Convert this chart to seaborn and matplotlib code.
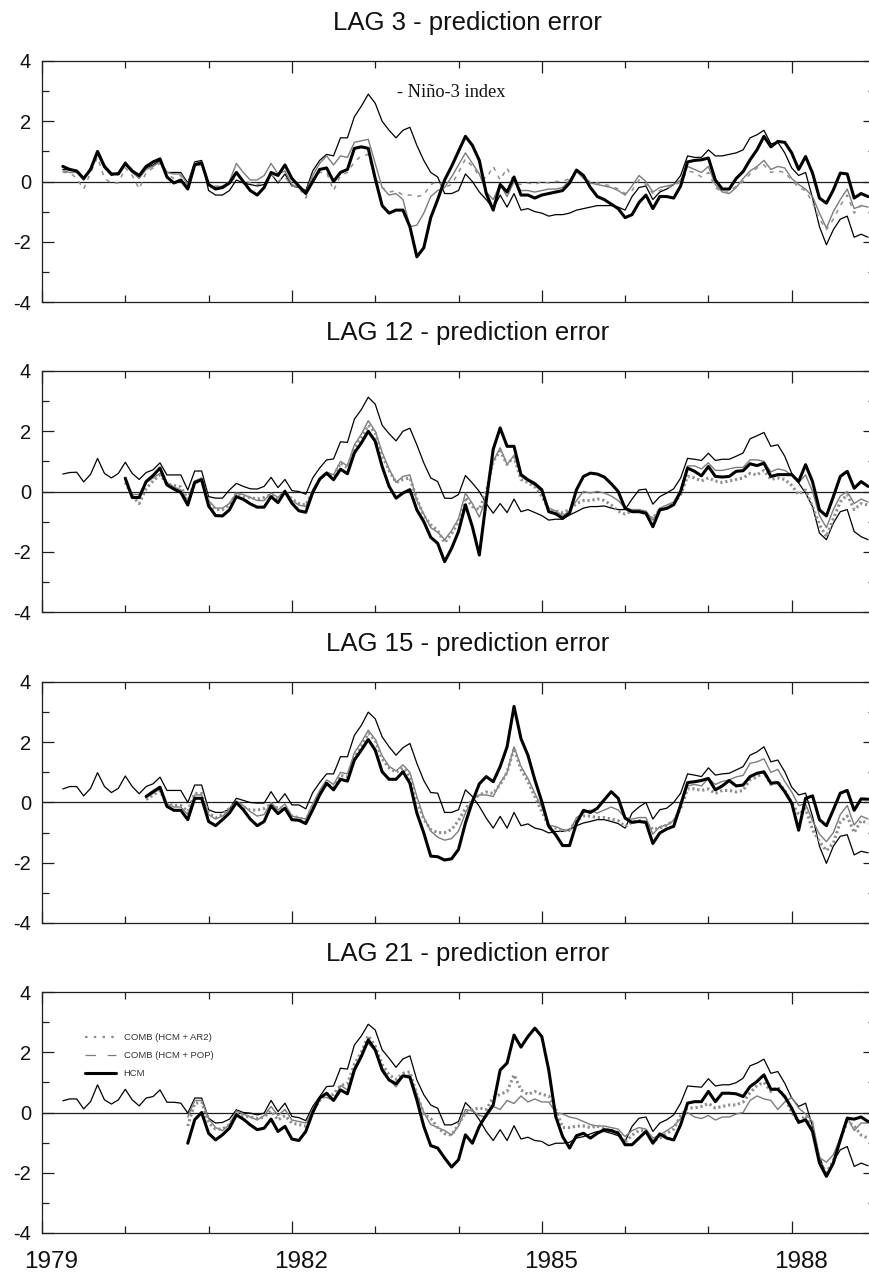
import numpy as np
import pandas as pd
import matplotlib
matplotlib.use("Agg")
import matplotlib.pyplot as plt
import matplotlib.transforms as mtransforms
from matplotlib.lines import Line2D
from matplotlib.ticker import FixedLocator, MultipleLocator
import seaborn as sns

# ---------------------------------------------------------------------------
# Monthly series (month index 0 = January 1979)
# ---------------------------------------------------------------------------
BASE_YEAR = 1979
year_ticks = [1979, 1982, 1985, 1988]
titles = ["LAG 3 - prediction error", "LAG 12 - prediction error",
          "LAG 15 - prediction error", "LAG 21 - prediction error"]
legend_labels = ["COMB (HCM + AR2)", "COMB (HCM + POP)", "HCM"]
nino_label = "- Niño-3 index"

nino_start = 3
model_start = [3, 12, 15, 21]

lag3_nino = [0.4, 0.38, 0.35, 0.05, 0.45, 0.95, 0.45, 0.2, 0.3, 0.65,
             0.35, 0.15, 0.45, 0.55, 0.7, 0.3, 0.3, 0.3, -0.05, 0.65,
             0.7, -0.3, -0.45, -0.45, -0.3, 0.05, -0.05, -0.1, -0.15, -0.1,
             0.25, -0.05, 0.25, -0.15, -0.2, -0.3, 0.35, 0.7, 0.9, 0.85,
             1.45, 1.45, 2.15, 2.5, 2.9, 2.6, 2.0, 1.7, 1.45, 1.7,
             1.8, 1.2, 0.7, 0.3, 0.15, -0.4, -0.4, -0.3, 0.25, 0.0,
             -0.35, -0.6, -0.9, -0.45, -0.85, -0.4, -0.95, -0.9, -1.0, -1.05,
             -1.15, -1.1, -1.1, -1.05, -0.95, -0.9, -0.85, -0.8, -0.8, -0.8,
             -0.85, -0.95, -0.5, -0.2, -0.15, -0.6, -0.35, -0.25, -0.1, 0.2,
             0.85, 0.8, 0.8, 1.05, 0.85, 0.85, 0.9, 0.95, 1.05, 1.45,
             1.55, 1.7, 1.25, 1.3, 0.95, 0.45, 0.2, 0.3, -0.55, -1.5,
             -2.1, -1.6, -1.25, -1.15, -1.85, -1.75, -1.85]
lag3_hcm = [0.5, 0.4, 0.35, 0.1, 0.4, 1.0, 0.5, 0.25, 0.25, 0.6,
            0.35, 0.2, 0.5, 0.65, 0.75, 0.15, -0.05, 0.05, -0.25, 0.55,
            0.62, -0.1, -0.25, -0.2, -0.05, 0.3, 0.0, -0.3, -0.45, -0.2,
            0.3, 0.2, 0.55, 0.1, -0.15, -0.4, 0.0, 0.4, 0.45, 0.0,
            0.3, 0.4, 1.1, 1.15, 1.1, 0.1, -0.8, -1.05, -0.95, -0.95,
            -1.5, -2.5, -2.2, -1.2, -0.6, 0.05, 0.5, 1.0, 1.5, 1.2,
            0.7, -0.4, -0.95, -0.1, -0.35, 0.15, -0.45, -0.45, -0.55, -0.45,
            -0.4, -0.35, -0.3, -0.05, 0.38, 0.2, -0.2, -0.5, -0.6, -0.75,
            -0.9, -1.2, -1.1, -0.7, -0.45, -0.9, -0.5, -0.5, -0.55, -0.15,
            0.65, 0.7, 0.72, 0.78, 0.05, -0.25, -0.25, 0.1, 0.33, 0.72,
            1.05, 1.5, 1.15, 1.33, 1.3, 0.95, 0.4, 0.83, 0.28, -0.55,
            -0.72, -0.28, 0.28, 0.25, -0.55, -0.4, -0.5]
lag3_pop = [0.35, 0.3, 0.3, 0.05, 0.4, 0.9, 0.45, 0.25, 0.25, 0.55,
            0.3, 0.1, 0.4, 0.5, 0.65, 0.3, 0.25, 0.25, -0.1, 0.6,
            0.65, -0.1, -0.2, -0.15, 0.0, 0.6, 0.3, 0.05, 0.05, 0.2,
            0.6, 0.25, 0.35, -0.1, -0.2, -0.35, 0.2, 0.6, 0.85, 0.55,
            0.85, 0.8, 1.3, 1.35, 1.4, 0.6, -0.2, -0.45, -0.4, -0.6,
            -1.5, -1.45, -1.05, -0.5, -0.3, -0.2, 0.15, 0.55, 0.95, 0.6,
            0.25, -0.35, -0.6, -0.1, -0.5, 0.0, -0.3, -0.3, -0.35, -0.3,
            -0.25, -0.25, -0.2, 0.05, 0.35, 0.1, -0.05, -0.1, -0.15, -0.2,
            -0.3, -0.45, -0.15, 0.2, 0.0, -0.35, -0.2, -0.15, -0.1, 0.05,
            0.5, 0.4, 0.3, 0.5, -0.1, -0.35, -0.4, -0.2, 0.1, 0.35,
            0.5, 0.7, 0.4, 0.5, 0.45, 0.1, -0.1, -0.25, -0.5, -1.05,
            -1.55, -1.0, -0.6, -0.25, -0.9, -0.8, -0.85]
lag3_ar2 = [0.3, 0.3, 0.1, -0.25, 0.3, 0.8, 0.1, -0.05, -0.05, 0.45,
            0.2, -0.25, 0.3, 0.45, 0.6, 0.25, 0.1, 0.2, -0.15, 0.5,
            0.55, -0.05, -0.15, -0.15, -0.1, 0.2, 0.05, -0.05, -0.1, -0.05,
            0.25, 0.0, 0.15, -0.15, -0.2, -0.55, 0.1, 0.3, 0.3, -0.3,
            0.2, 0.3, 0.65, 0.85, 0.9, 0.1, -0.2, -0.35, -0.3, -0.45,
            -0.45, -0.5, -0.45, -0.1, 0.0, -0.2, -0.1, 0.3, 0.75, 0.5,
            0.2, 0.1, 0.5, 0.05, 0.45, -0.05, -0.1, -0.05, -0.1, 0.0,
            -0.05, 0.0, 0.0, 0.1, 0.35, 0.1, 0.0, -0.05, -0.1, -0.15,
            -0.25, -0.4, -0.3, 0.05, -0.1, -0.4, -0.3, -0.2, -0.15, 0.0,
            0.35, 0.3, 0.15, 0.3, -0.2, -0.35, -0.35, -0.15, 0.0, 0.25,
            0.45, 0.55, 0.3, 0.35, 0.3, 0.05, -0.2, -0.3, -0.7, -1.25,
            -1.6, -1.25, -0.8, -0.45, -1.05, -0.8, -0.75]

lag12_nino = [0.58, 0.63, 0.64, 0.32, 0.57, 1.1, 0.6, 0.45, 0.6, 0.97,
              0.6, 0.4, 0.63, 0.72, 0.95, 0.55, 0.55, 0.55, 0.05, 0.68,
              0.68, -0.17, -0.22, -0.22, 0.05, 0.27, 0.17, 0.09, 0.08, 0.17,
              0.47, 0.13, 0.4, 0.03, 0.0, -0.09, 0.45, 0.78, 1.05, 1.08,
              1.65, 1.63, 2.4, 2.72, 3.13, 2.9, 2.2, 1.92, 1.68, 2.0,
              2.1, 1.55, 0.95, 0.45, 0.33, -0.22, -0.23, -0.1, 0.53, 0.28,
              0.0, -0.4, -0.72, -0.4, -0.7, -0.25, -0.67, -0.6, -0.7, -0.8,
              -0.95, -0.92, -0.92, -0.78, -0.67, -0.55, -0.5, -0.5, -0.48, -0.55,
              -0.6, -0.6, -0.25, 0.05, 0.08, -0.42, -0.17, -0.05, 0.09, 0.45,
              1.1, 1.07, 1.03, 1.27, 1.03, 1.07, 1.07, 1.17, 1.28, 1.75,
              1.85, 1.96, 1.5, 1.55, 1.17, 0.6, 0.28, -0.05, -0.5, -1.38,
              -1.6, -1.05, -0.67, -0.6, -1.33, -1.5, -1.6]
lag12_hcm = [0.44, -0.2, -0.2, 0.33, 0.53, 0.78, 0.22, 0.08, -0.03, -0.45,
             0.3, 0.39, -0.48, -0.8, -0.81, -0.61, -0.17, -0.26, -0.41, -0.52,
             -0.52, -0.17, -0.37, 0.0, -0.39, -0.64, -0.69, -0.03, 0.41, 0.61,
             0.39, 0.74, 0.59, 1.28, 1.61, 2.0, 1.67, 0.83, 0.17, -0.22,
             -0.05, 0.06, -0.61, -1.0, -1.52, -1.72, -2.33, -1.89, -1.33, -0.44,
             -1.17, -2.11, -0.3, 1.4, 2.11, 1.5, 1.5, 0.56, 0.39, 0.26,
             0.06, -0.67, -0.74, -0.89, -0.72, 0.06, 0.5, 0.61, 0.58, 0.48,
             0.26, 0.0, -0.56, -0.67, -0.67, -0.72, -1.17, -0.61, -0.56, -0.44,
             0.0, 0.78, 0.67, 0.52, 0.83, 0.5, 0.48, 0.5, 0.67, 0.69,
             0.92, 0.86, 0.94, 0.5, 0.56, 0.56, 0.56, 0.33, 0.89, 0.33,
             -0.61, -0.81, -0.17, 0.5, 0.67, 0.11, 0.33, 0.17]
lag12_pop = [0.35, -0.1, -0.1, 0.3, 0.45, 0.6, 0.3, 0.15, 0.05, -0.3,
             0.35, 0.45, -0.3, -0.55, -0.55, -0.4, -0.05, -0.1, -0.2, -0.3,
             -0.3, -0.05, -0.2, 0.05, -0.3, -0.45, -0.5, 0.05, 0.45, 0.65,
             0.55, 1.0, 0.85, 1.55, 1.9, 2.35, 2.0, 1.3, 0.75, 0.3,
             0.5, 0.55, -0.3, -0.75, -1.2, -1.35, -1.6, -1.3, -0.9, -0.05,
             -0.4, -0.85, -0.2, 1.0, 1.45, 0.9, 1.2, 0.5, 0.35, 0.2,
             0.0, -0.55, -0.65, -0.8, -0.65, -0.3, 0.0, -0.05, 0.0, -0.05,
             -0.15, -0.3, -0.55, -0.6, -0.6, -0.65, -0.95, -0.55, -0.45, -0.35,
             0.05, 0.85, 0.85, 0.75, 0.95, 0.7, 0.7, 0.75, 0.8, 0.8,
             1.05, 1.05, 1.0, 0.65, 0.75, 0.7, 0.55, 0.3, 0.55, 0.0,
             -0.8, -1.2, -0.6, -0.15, 0.0, -0.4, -0.25, -0.35]
lag12_ar2 = [0.3, -0.15, -0.4, 0.1, 0.35, 0.55, 0.25, 0.2, 0.15, -0.25,
             0.3, 0.35, -0.35, -0.6, -0.6, -0.45, -0.05, -0.15, -0.2, -0.25,
             -0.2, -0.1, -0.25, 0.0, -0.25, -0.4, -0.45, 0.0, 0.4, 0.6,
             0.5, 0.95, 0.8, 1.45, 1.8, 2.2, 1.95, 1.2, 0.7, 0.3,
             0.4, 0.45, -0.25, -0.8, -1.1, -1.3, -1.7, -1.4, -1.0, -0.2,
             -0.5, -0.6, 0.0, 1.0, 1.35, 0.9, 1.15, 0.4, 0.3, 0.15,
             -0.15, -0.6, -0.65, -0.7, -0.6, -0.4, -0.3, -0.3, -0.25, -0.3,
             -0.45, -0.65, -0.75, -0.65, -0.65, -0.75, -0.9, -0.6, -0.55, -0.4,
             -0.1, 0.5, 0.45, 0.35, 0.45, 0.35, 0.3, 0.35, 0.4, 0.45,
             0.6, 0.55, 0.7, 0.4, 0.45, 0.4, 0.2, -0.1, 0.05, -0.5,
             -1.1, -1.5, -0.9, -0.35, -0.1, -0.6, -0.4, -0.45]

lag15_nino = [0.45, 0.53, 0.53, 0.22, 0.47, 0.99, 0.53, 0.33, 0.47, 0.88,
              0.53, 0.29, 0.53, 0.62, 0.84, 0.4, 0.4, 0.4, 0.0, 0.58,
              0.58, -0.24, -0.33, -0.33, -0.22, 0.14, 0.07, 0.0, -0.02, -0.02,
              0.36, 0.0, 0.29, -0.08, -0.08, -0.21, 0.33, 0.66, 0.95, 0.95,
              1.52, 1.52, 2.23, 2.56, 3.0, 2.78, 2.18, 1.85, 1.57, 1.82,
              1.96, 1.3, 0.73, 0.33, 0.31, -0.33, -0.33, -0.24, 0.42, 0.2,
              -0.13, -0.52, -0.85, -0.46, -0.85, -0.33, -0.77, -0.71, -0.85, -0.9,
              -1.01, -0.96, -0.96, -0.9, -0.77, -0.68, -0.63, -0.57, -0.57, -0.63,
              -0.7, -0.85, -0.35, -0.15, 0.0, -0.55, -0.24, -0.19, 0.0, 0.31,
              0.95, 0.91, 0.86, 1.15, 0.91, 0.95, 0.97, 1.08, 1.19, 1.57,
              1.68, 1.85, 1.35, 1.41, 1.02, 0.51, 0.25, 0.31, -0.46, -1.45,
              -2.02, -1.45, -1.12, -1.07, -1.74, -1.62, -1.67]
lag15_hcm = [0.2, 0.36, 0.51, -0.13, -0.26, -0.26, -0.57, 0.14, 0.14, -0.63,
             -0.77, -0.57, -0.35, 0.0, -0.24, -0.55, -0.77, -0.63, -0.11, -0.37,
             -0.19, -0.57, -0.59, -0.7, -0.24, 0.25, 0.64, 0.42, 0.77, 0.71,
             1.41, 1.74, 2.09, 1.74, 1.02, 0.77, 0.77, 1.02, 0.64, -0.35,
             -1.01, -1.78, -1.8, -1.91, -1.87, -1.56, -0.68, 0.03, 0.62, 0.86,
             0.69, 1.19, 1.85, 3.19, 2.12, 1.57, 0.75, 0.03, -0.79, -1.07,
             -1.43, -1.43, -0.68, -0.26, -0.33, -0.19, 0.09, 0.36, 0.14, -0.52,
             -0.66, -0.63, -0.66, -1.36, -1.01, -0.88, -0.79, -0.08, 0.66, 0.69,
             0.73, 0.8, 0.42, 0.55, 0.73, 0.55, 0.58, 0.86, 0.97, 1.02,
             0.64, 0.66, 0.36, -0.02, -0.92, 0.14, 0.22, -0.57, -0.77, -0.24,
             0.31, 0.4, -0.26, 0.12, 0.11]
lag15_pop = [0.15, 0.3, 0.45, -0.05, -0.15, -0.15, -0.4, 0.25, 0.25, -0.4,
             -0.55, -0.45, -0.25, 0.05, -0.1, -0.3, -0.45, -0.4, 0.0, -0.25,
             -0.05, -0.45, -0.5, -0.55, -0.05, 0.4, 0.75, 0.6, 1.0, 0.95,
             1.65, 2.0, 2.4, 2.1, 1.55, 1.2, 1.05, 1.25, 1.0, 0.2,
             -0.5, -0.95, -1.15, -1.25, -1.2, -0.95, -0.35, 0.1, 0.25, 0.25,
             0.2, 0.65, 1.0, 1.85, 1.2, 0.8, 0.3, -0.15, -0.75, -0.8,
             -0.9, -0.95, -0.5, -0.35, -0.25, -0.35, -0.25, -0.15, -0.25, -0.5,
             -0.55, -0.5, -0.5, -1.05, -0.8, -0.75, -0.6, -0.1, 0.55, 0.6,
             0.55, 0.8, 0.6, 0.7, 0.75, 0.85, 0.9, 1.3, 1.35, 1.45,
             1.0, 1.1, 0.7, 0.35, -0.1, -0.05, -0.6, -1.05, -1.3, -1.0,
             -0.4, -0.1, -0.75, -0.45, -0.55]
lag15_ar2 = [0.1, 0.25, 0.4, -0.05, -0.1, -0.1, -0.3, 0.3, 0.3, -0.35,
             -0.5, -0.4, -0.2, 0.0, -0.15, -0.25, -0.25, -0.2, -0.05, -0.2,
             -0.15, -0.45, -0.5, -0.6, -0.1, 0.3, 0.6, 0.5, 0.9, 0.85,
             1.5, 1.85, 2.3, 2.05, 1.45, 1.15, 1.0, 1.15, 0.85, 0.05,
             -0.55, -0.9, -1.0, -1.0, -0.9, -0.6, -0.2, 0.1, 0.25, 0.35,
             0.3, 0.6, 1.0, 1.8, 1.1, 0.7, 0.2, -0.3, -0.8, -0.85,
             -0.95, -0.9, -0.6, -0.45, -0.45, -0.5, -0.5, -0.55, -0.6, -0.8,
             -0.65, -0.6, -0.65, -0.9, -0.85, -0.75, -0.6, -0.2, 0.45, 0.45,
             0.4, 0.45, 0.3, 0.4, 0.4, 0.35, 0.4, 0.75, 0.85, 1.0,
             0.6, 0.7, 0.4, 0.0, -0.4, -0.2, -0.9, -1.3, -1.6, -1.35,
             -0.65, -0.45, -1.0, -0.6, -0.7]

lag21_nino = [0.39, 0.45, 0.45, 0.12, 0.36, 0.92, 0.42, 0.28, 0.42, 0.77,
              0.42, 0.22, 0.48, 0.53, 0.75, 0.34, 0.34, 0.31, -0.02, 0.48,
              0.48, -0.19, -0.35, -0.33, -0.22, 0.09, 0.0, -0.02, -0.08, -0.02,
              0.4, 0.03, 0.31, -0.13, -0.17, -0.27, 0.2, 0.53, 0.86, 0.88,
              1.47, 1.44, 2.24, 2.54, 2.93, 2.74, 2.08, 1.8, 1.5, 1.78,
              1.88, 1.08, 0.59, 0.25, 0.14, -0.41, -0.41, -0.3, 0.33, 0.09,
              -0.24, -0.63, -0.93, -0.57, -0.93, -0.44, -0.88, -0.82, -0.93, -0.96,
              -1.1, -1.02, -1.02, -0.99, -0.85, -0.8, -0.71, -0.63, -0.63, -0.69,
              -0.77, -0.96, -0.46, -0.19, -0.15, -0.63, -0.35, -0.24, -0.08, 0.31,
              0.88, 0.86, 0.84, 1.12, 0.88, 0.92, 0.92, 0.99, 1.14, 1.55,
              1.64, 1.77, 1.3, 1.36, 0.97, 0.48, 0.2, 0.31, -0.46, -1.46,
              -2.1, -1.62, -1.24, -1.13, -1.79, -1.68, -1.77]
lag21_hcm = [-1.02, -0.24, 0.0, -0.69, -0.91, -0.74, -0.52, -0.08, -0.22, -0.41,
             -0.57, -0.52, -0.22, -0.63, -0.46, -0.88, -0.93, -0.63, 0.0, 0.48,
             0.64, 0.4, 0.75, 0.62, 1.41, 1.86, 2.41, 2.08, 1.41, 1.08,
             0.95, 1.22, 1.17, 0.42, -0.46, -1.1, -1.18, -1.51, -1.81, -1.57,
             -0.74, -1.02, -0.46, -0.08, 0.25, 1.41, 1.64, 2.57, 2.17, 2.52,
             2.8, 2.52, 1.41, -0.13, -0.8, -1.18, -0.77, -0.69, -0.85, -0.69,
             -0.57, -0.6, -0.69, -1.07, -1.07, -0.85, -0.63, -1.02, -0.71, -0.85,
             -0.91, -0.41, 0.31, 0.36, 0.36, 0.7, 0.36, 0.64, 0.64, 0.62,
             0.53, 0.86, 1.03, 1.25, 0.77, 0.77, 0.53, 0.14, -0.33, -0.24,
             -0.63, -1.68, -2.12, -1.68, -0.91, -0.19, -0.22, -0.15, -0.3]
lag21_pop = [-0.15, 0.4, 0.4, -0.2, -0.5, -0.6, -0.4, 0.05, -0.05, -0.15,
             -0.25, -0.1, 0.2, -0.1, 0.1, -0.25, -0.3, -0.35, 0.1, 0.5,
             0.5, 0.4, 0.9, 0.75, 1.5, 1.9, 2.3, 2.05, 1.5, 1.1,
             0.85, 1.2, 1.25, 0.6, 0.0, -0.4, -0.5, -0.6, -0.75, -0.45,
             0.1, 0.05, -0.1, -0.15, 0.2, 0.1, 0.4, 0.3, 0.55, 0.35,
             0.45, 0.35, 0.35, 0.0, -0.05, -0.15, -0.2, -0.3, -0.4, -0.45,
             -0.45, -0.5, -0.55, -0.8, -0.6, -0.5, -0.55, -0.85, -0.75, -0.6,
             -0.45, -0.2, 0.0, -0.15, -0.2, -0.1, -0.25, -0.15, -0.15, -0.05,
             0.0, 0.4, 0.55, 0.45, 0.4, 0.1, 0.35, 0.5, 0.15, -0.05,
             -0.3, -1.5, -1.65, -1.4, -0.85, -0.15, -0.6, -0.35, -0.35]
lag21_ar2 = [-0.45, 0.3, 0.35, -0.35, -0.55, -0.55, -0.4, -0.05, -0.1, -0.15,
             -0.2, -0.15, 0.05, -0.25, -0.1, -0.35, -0.4, -0.45, 0.05, 0.4,
             0.6, 0.6, 0.9, 0.95, 1.6, 2.0, 2.55, 2.2, 1.6, 1.25,
             1.1, 1.3, 1.35, 0.6, -0.05, -0.2, -0.5, -0.7, -0.75, -0.4,
             0.0, 0.1, 0.15, 0.1, 0.5, 0.6, 0.7, 1.25, 0.75, 0.6,
             0.7, 0.6, 0.55, 0.1, -0.5, -0.5, -0.45, -0.45, -0.5, -0.45,
             -0.55, -0.6, -0.65, -1.0, -0.75, -0.6, -0.6, -0.95, -0.85, -0.7,
             -0.55, -0.1, 0.15, 0.15, 0.2, 0.3, 0.15, 0.2, 0.25, 0.25,
             0.35, 0.65, 0.9, 1.0, 0.7, 0.85, 0.5, 0.0, -0.3, -0.1,
             -0.5, -1.6, -2.0, -1.6, -0.9, -0.3, -0.45, -0.75, -0.85]

panels = [
    (lag3_nino, lag3_ar2, lag3_pop, lag3_hcm),
    (lag12_nino, lag12_ar2, lag12_pop, lag12_hcm),
    (lag15_nino, lag15_ar2, lag15_pop, lag15_hcm),
    (lag21_nino, lag21_ar2, lag21_pop, lag21_hcm),
]


def to_frame(values, start):
    months = np.arange(start, start + len(values))
    return pd.DataFrame({"year": BASE_YEAR + months / 12.0, "value": values})


# ---------------------------------------------------------------------------
# Styling
# ---------------------------------------------------------------------------
sns.set_style("ticks")
plt.rcParams["font.family"] = ["Liberation Sans", "DejaVu Sans"]
plt.rcParams["axes.unicode_minus"] = False
plt.rcParams["lines.scale_dashes"] = False

GRAY_SOLID = "#7c7c7c"
GRAY_DOT = "#8e8e8e"
EDGE = "#1e1e1e"

W, H = 870, 1275
fig = plt.figure(figsize=(W / 100, H / 100), dpi=100)

axes_left, axes_width, axes_height = 42, 833, 241
axes_tops = [61, 371, 682, 992]

for i, (nino, ar2, pop, hcm) in enumerate(panels):
    top = axes_tops[i]
    ax = fig.add_axes([axes_left / W, 1 - (top + axes_height) / H,
                       axes_width / W, axes_height / H])

    ax.axhline(0, color=EDGE, lw=0.9, zorder=1)

    sns.lineplot(data=to_frame(nino, nino_start), x="year", y="value", ax=ax,
                 color="black", linewidth=0.9, zorder=2)
    sns.lineplot(data=to_frame(pop, model_start[i]), x="year", y="value", ax=ax,
                 color=GRAY_SOLID, linewidth=1.0, zorder=3)
    if i == 0:
        sns.lineplot(data=to_frame(ar2, model_start[i]), x="year", y="value", ax=ax,
                     color=GRAY_DOT, linewidth=1.1, linestyle=(0, (3, 4)), zorder=4)
    else:
        sns.lineplot(data=to_frame(ar2, model_start[i]), x="year", y="value", ax=ax,
                     color=GRAY_DOT, linewidth=2.2, linestyle=(0, (1.6, 2.0)), zorder=4)
    sns.lineplot(data=to_frame(hcm, model_start[i]), x="year", y="value", ax=ax,
                 color="black", linewidth=2.2, zorder=5)

    ax.set_xlim(1979, 1989)
    ax.set_ylim(-4, 4)
    ax.set_xlabel("")
    ax.set_ylabel("")

    ax.xaxis.set_major_locator(FixedLocator(year_ticks))
    ax.xaxis.set_minor_locator(MultipleLocator(1))
    ax.yaxis.set_major_locator(MultipleLocator(2))
    ax.yaxis.set_minor_locator(MultipleLocator(1))
    ax.tick_params(which="both", direction="in", top=True, right=True,
                   width=0.9, color=EDGE)
    ax.tick_params(which="major", length=8.8)
    ax.tick_params(which="minor", length=5)
    ax.tick_params(axis="y", labelsize=14.5, pad=8, labelcolor="#111111")
    for spine in ax.spines.values():
        spine.set_linewidth(0.9)
        spine.set_color(EDGE)

    if i == len(panels) - 1:
        ax.tick_params(axis="x", labelsize=17.5, pad=13, labelcolor="#111111")
        shift = mtransforms.ScaledTranslation(9 / 100, 0, fig.dpi_scale_trans)
        for lab in ax.get_xticklabels():
            lab.set_transform(lab.get_transform() + shift)
    else:
        ax.tick_params(axis="x", labelbottom=False)

    fig.text(467.5 / W, 1 - (top - 31) / H, titles[i], ha="center",
             va="baseline", fontsize=18.5, color="#111111")

    if i == 0:
        ax.text(0.4258, 0.852, nino_label, transform=ax.transAxes,
                ha="left", va="baseline", fontsize=13.2, color="#111111",
                family=["Liberation Serif", "DejaVu Serif"])

    if i == len(panels) - 1:
        handles = [
            Line2D([], [], color=GRAY_DOT, lw=1.6, linestyle=(0, (1.8, 4.5))),
            Line2D([], [], color=GRAY_SOLID, lw=0.9, linestyle=(0, (7.5, 8.5))),
            Line2D([], [], color="black", lw=2.2),
        ]
        leg = ax.legend(handles, legend_labels, loc="upper left",
                        bbox_to_anchor=(0.0516, 0.83), frameon=False,
                        fontsize=6.8, handlelength=3.3, handletextpad=0.8,
                        labelspacing=0.95, borderpad=0, borderaxespad=0)
        for t in leg.get_texts():
            t.set_color("#333333")

fig.savefig("out.png", dpi=100)
